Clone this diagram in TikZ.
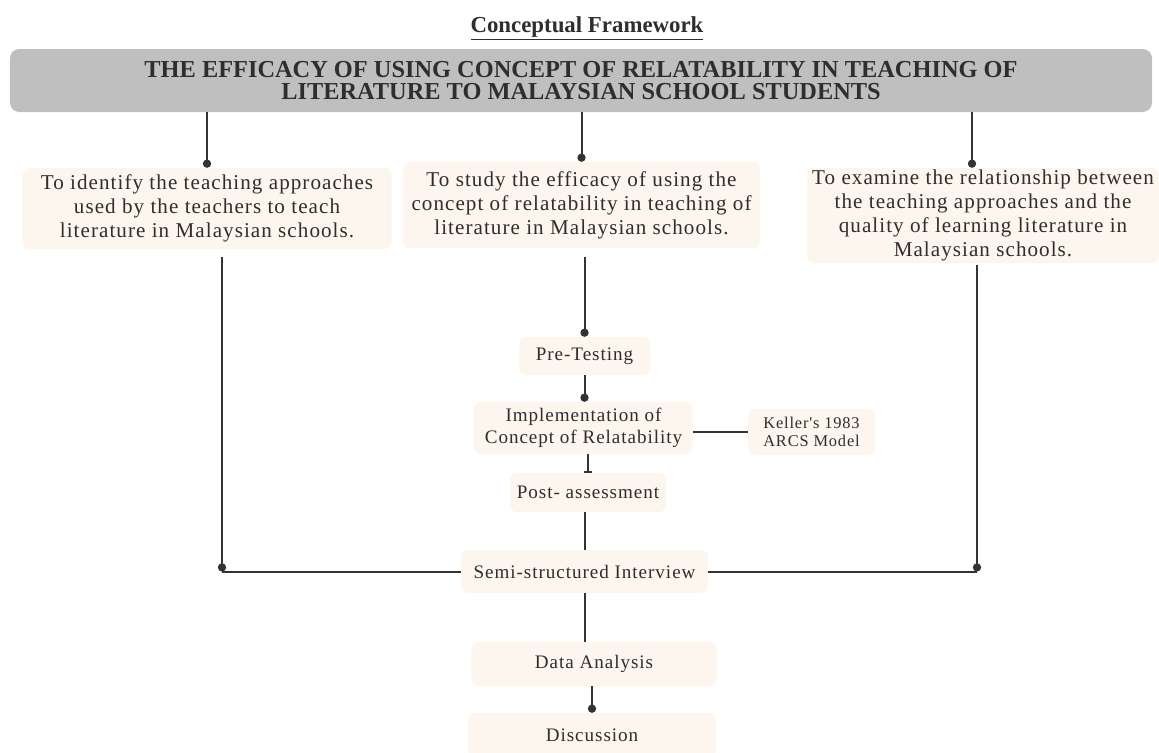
\documentclass[tikz,border=0pt]{standalone}
\usepackage{fontspec}
\setmainfont{Liberation Serif}
\newfontfamily\bodyfont{Liberation Serif}[LetterSpace=5]
\usetikzlibrary{positioning,arrows.meta}
\definecolor{boxfill}{HTML}{FDF6EE}
\definecolor{bannerfill}{HTML}{BFBFBF}
\definecolor{linec}{HTML}{333333}
\definecolor{txt}{HTML}{2E2E2E}

\begin{document}
\begin{tikzpicture}[x=0.03cm, y=-0.03cm,
    box/.style={fill=boxfill, rounded corners=6pt, align=center, text=txt, inner sep=0pt,
        font=\bodyfont\fontsize{16.3}{19}\selectfont},
    aimbox/.style={box, font=\bodyfont\fontsize{18}{20.5}\selectfont},
    link/.style={draw=linec, line width=1.7pt},
    dotend/.style={-{Circle[length=7pt,width=7pt]}}]
    \useasboundingbox (0,0) rectangle (1159,752);

    % heading and topic
    \node[font=\bfseries\fontsize{19.5}{22}\selectfont, text=txt] (head) at (587,28) {\underline{Conceptual Framework}};
    \node[fill=bannerfill, rounded corners=8pt, minimum width=34.26cm, minimum height=1.89cm, align=center,
        text=txt, font=\bfseries\fontsize{20.8}{19.5}\selectfont] (topic) at (581,80.5)
        {THE EFFICACY OF USING CONCEPT OF RELATABILITY IN TEACHING OF\\LITERATURE TO MALAYSIAN SCHOOL STUDENTS};

    % objectives
    \node[aimbox, minimum width=11.07cm, minimum height=2.43cm] (aim1) at (207,208.5)
        {To identify the teaching approaches\\used by the teachers to teach\\literature in Malaysian schools.};
    \node[aimbox, minimum width=10.71cm, minimum height=2.58cm] (aim2) at (581.5,205)
        {To study the efficacy of using the\\concept of relatability in teaching of\\literature in Malaysian schools.};
    \node[aimbox, minimum width=10.56cm, minimum height=2.85cm] (aim3) at (983,215.5)
        {To examine the relationship between\\the teaching approaches and the\\quality of learning literature in\\Malaysian schools.};

    % method steps
    \node[box, minimum width=3.93cm, minimum height=1.14cm] (pre) at (584.5,356) {Pre-Testing};
    \node[box, minimum width=6.57cm, minimum height=1.56cm] (impl) at (583.5,428) {Implementation of\\Concept of Relatability};
    \node[box, minimum width=3.81cm, minimum height=1.38cm, font=\bodyfont\fontsize{14}{16}\selectfont] (keller) at (811.5,432) {Keller's 1983\\ARCS Model};
    \node[box, minimum width=4.68cm, minimum height=1.17cm] (post) at (588,492.5) {Post- assessment};
    \node[box, minimum width=7.41cm, minimum height=1.29cm] (semi) at (584.5,571.5) {Semi-structured Interview};
    \node[box, minimum width=7.38cm, minimum height=1.32cm] (data) at (594,664) {Data Analysis};
    \node[box, minimum width=7.44cm, minimum height=1.32cm] (disc) at (592,735) {Discussion};

    % topic to objectives
    \coordinate (a3top) at ([xshift=-0.33cm]aim3.north);
    \draw[link,dotend] (topic.south -| aim1.north) -- (aim1.north);
    \draw[link,dotend] (topic.south -| aim2.north) -- (aim2.north);
    \draw[link,dotend] (topic.south -| a3top) -- (a3top);

    % objectives to steps
    \coordinate (l1) at ([xshift=0.45cm]aim1.south);
    \coordinate (lc) at (l1 |- semi.west);
    \coordinate (r1) at ([xshift=-0.18cm]aim3.south);
    \coordinate (rc) at (r1 |- semi.east);
    \draw[link,dotend,shorten <=0.24cm] (l1) -- (lc);
    \draw[link] (lc) -- (semi.west);
    \draw[link,dotend,shorten <=0.06cm] (r1) -- (rc);
    \draw[link] (rc) -- (semi.east);
    \draw[link,dotend,shorten <=0.27cm] (aim2.south -| pre.north) -- (pre.north);

    % steps
    \draw[link,dotend] (pre.south) -- (pre.south |- impl.north);
    \draw[link,-{Bar[width=6pt]}] (impl.south -| post.north) -- (post.north);
    \draw[link,line width=1.2pt] (impl.east |- keller.west) -- (keller.west);
    \draw[link] (post.south -| semi.north) -- (semi.north);
    \draw[link] (semi.south) -- (semi.south |- data.north);
    \draw[link,dotend] (data.south -| disc.north) -- (disc.north);
\end{tikzpicture}
\end{document}
